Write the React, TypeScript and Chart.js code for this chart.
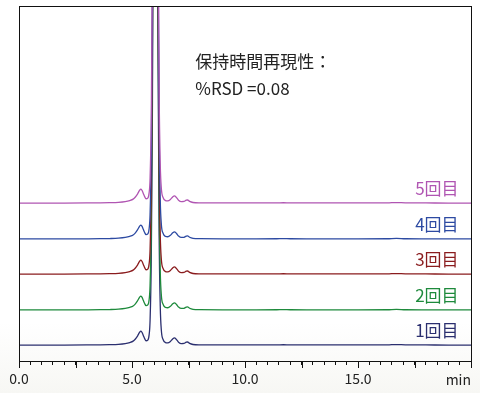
import React, { useEffect, useRef } from "react";
import { Chart, registerables } from "chart.js";

Chart.register(...registerables);

// Retention time (min) and detector signal above baseline (display units)
const times = [
  0, 1.0, 2.0, 3.0, 3.6, 4.0, 4.4, 4.7, 4.9, 5.05, 5.15, 5.25, 5.32, 5.38, 5.44, 5.5, 5.56, 5.62,
  5.7, 5.76, 5.8, 5.85, 5.9, 5.95, 6.0, 6.02, 6.06, 6.1, 6.15, 6.2, 6.25, 6.3, 6.38, 6.48,
  6.58, 6.7, 6.8, 6.88, 6.96, 7.06, 7.18, 7.3, 7.4, 7.46, 7.55, 7.7, 8.0, 9.0, 10.5, 11.4,
  11.7, 12.0, 13.5, 15.0, 16.3, 16.7, 17.1, 18.0, 19.0, 20.0,
];
const signal = [
  0, 0, 0, 0.02, 0.05, 0.1, 0.2, 0.4, 0.7, 1.1, 1.7, 2.6, 3.4, 3.9, 3.6, 2.7, 1.8, 1.2,
  1.4, 3, 7, 23, 63, 160, 390, 400, 330, 190, 85, 32, 11, 4, 1.5, 0.7,
  0.6, 1.0, 1.7, 2.0, 1.6, 0.8, 0.4, 0.45, 0.8, 0.85, 0.45, 0.15, 0.05, 0.02, 0.02, 0.03,
  0.08, 0.03, 0.02, 0.02, 0.04, 0.14, 0.04, 0.02, 0, 0,
];

// Vertical display offsets of the five injections
const runOffsets = [4.5, 14.4, 24.5, 34.4, 44.5];
const runLabels = ["1回目", "2回目", "3回目", "4回目", "5回目"];
const runColors = ["#2b2f6f", "#1e8a3c", "#8a1c1e", "#2d4aa2", "#b055b2"];

const xTickLabels = [0, 5, 10, 15];
const noteLines = ["保持時間再現性：", "%RSD =0.08"];
const axisUnit = "min";

const CJK = '"Noto Sans CJK JP", "Noto Sans", sans-serif';

export default function App() {
  const ref = useRef<HTMLCanvasElement | null>(null);

  useEffect(() => {
    document.body.style.margin = "0";
    const canvas = ref.current;
    if (!canvas) return;

    const datasets = runOffsets
      .map((off, i) => ({
        label: runLabels[i],
        data: times.map((t, j) => ({ x: t, y: signal[j] + off })),
        borderColor: runColors[i],
        borderWidth: 1.3,
        pointRadius: 0,
        fill: false,
        cubicInterpolationMode: "monotone" as const,
      }))
      .reverse();

    const decor = {
      id: "decor",
      beforeDraw(chart: any) {
        const { ctx, width, height } = chart;
        ctx.save();
        const g = ctx.createLinearGradient(0, 0, 0, height);
        g.addColorStop(0, "#ffffff");
        g.addColorStop(0.82, "#ffffff");
        g.addColorStop(1, "#f7f7f4");
        ctx.fillStyle = g;
        ctx.fillRect(0, 0, width, height);
        ctx.restore();
      },
      afterDraw(chart: any) {
        const { ctx, chartArea: a, scales } = chart;
        const xs = scales.x;
        const ys = scales.y;
        ctx.save();
        // frame
        ctx.strokeStyle = "#111";
        ctx.lineWidth = 1;
        ctx.strokeRect(Math.round(a.left) + 0.5, Math.round(a.top) + 0.5, Math.round(a.right - a.left), Math.round(a.bottom - a.top));
        // long ticks every 2.5 min
        for (let v = 0; v <= 20 + 1e-9; v += 2.5) {
          const px = Math.round(xs.getPixelForValue(v)) + 0.5;
          ctx.beginPath();
          ctx.moveTo(px, a.bottom);
          ctx.lineTo(px, a.bottom + 7);
          ctx.stroke();
        }
        // unit label
        ctx.fillStyle = "#222";
        ctx.font = `14px ${CJK}`;
        ctx.textAlign = "right";
        ctx.textBaseline = "middle";
        ctx.fillText(axisUnit, a.right, 380);
        // run labels
        ctx.font = `17px ${CJK}`;
        runOffsets.forEach((off, i) => {
          ctx.fillStyle = runColors[i];
          ctx.fillText(runLabels[i], xs.getPixelForValue(19.45), ys.getPixelForValue(off) - 14);
        });
        // note
        ctx.fillStyle = "#222";
        ctx.textAlign = "left";
        ctx.fillText(noteLines[0], xs.getPixelForValue(7.8), 62);
        ctx.fillText(noteLines[1], xs.getPixelForValue(7.8), 89);
        ctx.restore();
      },
    };

    const chart = new Chart(canvas, {
      type: "line",
      data: { datasets },
      options: {
        animation: false,
        responsive: false,
        layout: { padding: { left: 19, right: 9, top: 6, bottom: 0 } },
        plugins: { legend: { display: false }, tooltip: { enabled: false } },
        scales: {
          x: {
            type: "linear",
            min: 0,
            max: 20,
            afterFit: (s: any) => {
              s.height = 32;
            },
            border: { display: true, color: "#111", width: 1 },
            grid: { display: true, drawOnChartArea: false, drawTicks: true, tickLength: 4, color: "#111", tickColor: "#111" },
            ticks: {
              stepSize: 0.5,
              autoSkip: false,
              maxRotation: 0,
              padding: 5,
              color: "#222",
              font: { family: CJK, size: 14 },
              callback: (v: any) => {
                const n = Number(v);
                return xTickLabels.includes(n) ? n.toFixed(1) : "";
              },
            },
          },
          y: {
            display: false,
            min: 0,
            max: 100,
          },
        },
      },
      plugins: [decor],
    });

    return () => chart.destroy();
  }, []);

  return (
    <div style={{ width: 480, height: 393 }}>
      <canvas ref={ref} width={480} height={393} style={{ display: "block" }} />
    </div>
  );
}
